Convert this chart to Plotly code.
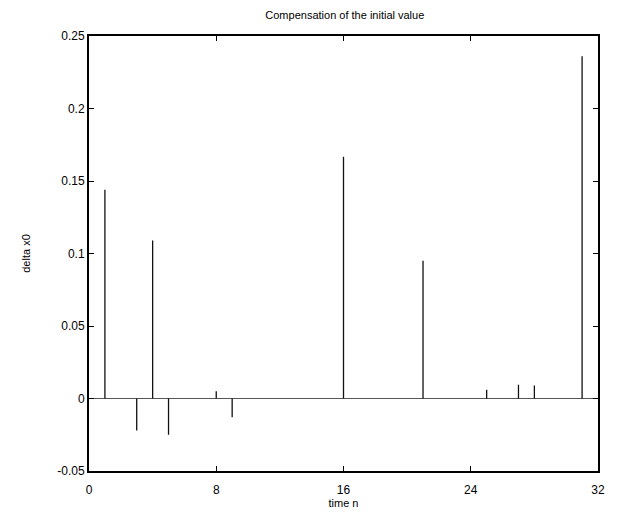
import plotly.graph_objects as go

# data: time index n and compensation delta x0
n = list(range(32))
delta_x0 = [0, 0.144, 0, -0.022, 0.109, -0.025, 0, 0,
            0.005, -0.013, 0, 0, 0, 0, 0, 0,
            0.1667, 0, 0, 0, 0, 0.095, 0, 0,
            0, 0.006, 0, 0.0095, 0.009, 0, 0, 0.236]
x_ticks = [0, 8, 16, 24, 32]
y_ticks = [-0.05, 0, 0.05, 0.1, 0.15, 0.2, 0.25]
y_tick_text = ["-0.05", "0", "0.05", "0.1", "0.15", "0.2", "0.25"]

# build stem segments from the data
xs, ys = [], []
for xi, yi in zip(n, delta_x0):
    if yi != 0:
        xs += [xi, xi, None]
        ys += [0, yi, None]

fig = go.Figure()
fig.add_trace(go.Scatter(x=xs, y=ys, mode="lines",
                         line=dict(color="#111111", width=1.3),
                         hoverinfo="skip", showlegend=False))

font = dict(family="Liberation Sans, Arial, sans-serif", size=11, color="black")
tick_font = dict(family="Liberation Sans, Arial, sans-serif", size=12, color="black")
axis_common = dict(showgrid=False, ticks="inside", ticklen=5, tickcolor="black",
                   showline=True, linecolor="black", linewidth=2, mirror="ticks",
                   tickfont=tick_font, automargin=False)

fig.update_layout(
    width=618, height=518,
    paper_bgcolor="white", plot_bgcolor="white",
    margin=dict(l=81, r=28, t=28, b=55),
    title=dict(text="Compensation of the initial value", x=0.545, xanchor="center",
               y=0.986, yanchor="middle", font=font),
    font=font,
)
fig.update_xaxes(range=[0, 32], tickvals=x_ticks, zeroline=False, ticklabelstandoff=7,
                 title=dict(text="time n", font=font, standoff=0), **axis_common)
fig.update_yaxes(range=[-0.05, 0.25], tickvals=y_ticks, ticktext=y_tick_text,
                 zeroline=True, zerolinecolor="#555555", zerolinewidth=1,
                 title=dict(text="delta x0", font=font, standoff=24), **axis_common)

fig.write_html("out.html")
